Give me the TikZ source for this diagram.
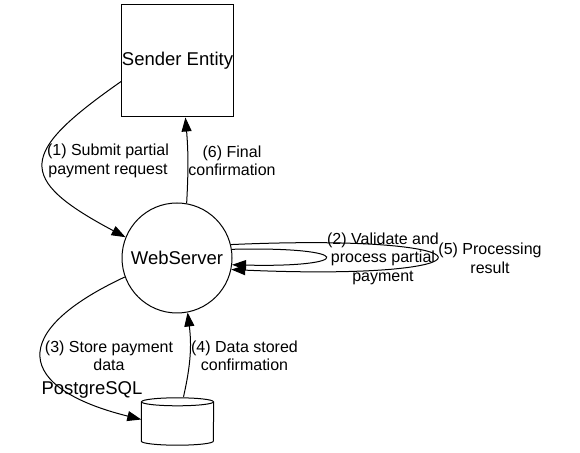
\documentclass[tikz,border=0pt]{standalone}
\usepackage{fontspec}
\setmainfont{Liberation Sans}
\usetikzlibrary{arrows.meta}
\tikzset{>={Triangle[width=10pt,length=14pt]}}
\tikzset{
	entity/.style={draw,line width=1pt,minimum width=112pt,minimum height=112pt,inner sep=0pt,font=\fontsize{18.5}{22}\selectfont},
	process/.style={draw,circle,line width=1pt,minimum size=110pt,inner sep=0pt,font=\fontsize{18.5}{22}\selectfont},
	store/.style={minimum width=72pt,minimum height=47pt,inner sep=0pt},
	flow/.style={->,line width=1pt},
	flowtext/.style={align=center,inner sep=0pt,font=\fontsize{16}{18.5}\selectfont},
}

\begin{document}
\begin{tikzpicture}[x=1pt,y=1pt]
		\useasboundingbox (0,0) rectangle (580,452);

		% sender, server and database
		\node[entity] (sender) at (177.5,391) {Sender Entity};
		\node[process] (web) at (177,194) {WebServer};
		\node[store] (db) at (177.5,30.5) {};
		\node[flowtext,font=\fontsize{18.5}{22}\selectfont] (dbname) at (92,62) {PostgreSQL};

		% database drum
		\draw[line width=1pt] ([yshift=-4pt]db.north) ellipse (36pt and 4pt);
		\draw[line width=1pt] ([yshift=-4pt]db.north west) -- ([yshift=4pt]db.south west) arc (180:360:36pt and 4pt) -- ([yshift=-4pt]db.north east);

		% request and confirmation
		\draw[flow] (sender.200) .. controls +(215:125) and +(152:125) .. (web.158);
		\draw[flow] (web.80) to[bend right=4] (sender.-82);
		\node[flowtext] (lbl1) at (108,291) {(1) Submit partial\\payment request};
		\node[flowtext] (lbl6) at (232,291) {(6) Final\\confirmation};

		% self loops
		\draw[flow] (web.9) .. controls +(124,3) and +(124,-3) .. (web.-7);
		\draw[flow] (web.14) .. controls +(274,12) and +(274,-12) .. (web.-12);
		\node[flowtext] (lbl2) at (383,193.5) {(2) Validate and\\process partial\\payment};
		\node[flowtext] (lbl5) at (490,193.5) {(5) Processing\\result};

		% storing the data
		\draw[flow] (web.200) .. controls +(205:130) and +(166:130) .. ([yshift=2pt]db.west);
		\draw[flow] ([xshift=6pt,yshift=1pt]db.north) to[bend right=10] (web.-79);
		\node[flowtext] (lbl3) at (109,96) {(3) Store payment\\data};
		\node[flowtext] (lbl4) at (244.5,96) {(4) Data stored\\confirmation};

	\end{tikzpicture}
\end{document}
